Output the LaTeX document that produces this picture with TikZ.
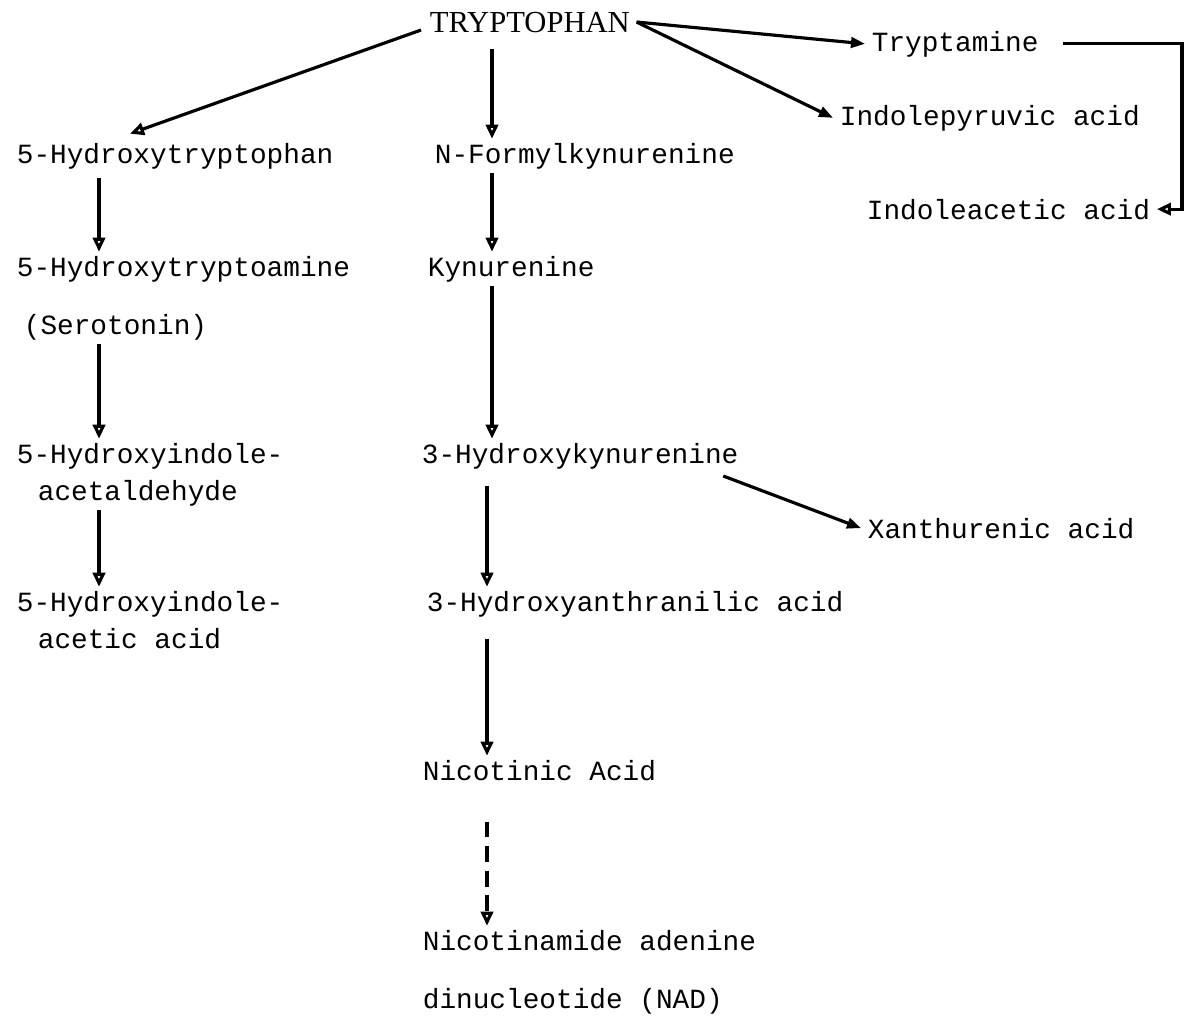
\documentclass[tikz,border=0pt]{standalone}
\usepackage{fontspec}
\setmainfont{Liberation Serif}
\setmonofont{Liberation Mono}
\usetikzlibrary{arrows.meta,calc}

\begin{document}
\begin{tikzpicture}[x=0.02cm, y=-0.02cm, line width=1.8pt,
  conv/.style={-{Triangle[open, length=8pt, width=7pt]}},
  convf/.style={-{Triangle[length=8pt, width=6pt]}},
  chem/.style={anchor=base west, inner xsep=3pt, inner ysep=1.5pt, align=left,
    font=\ttfamily\fontsize{15.8}{21}\selectfont}]
\path[use as bounding box, fill=white] (0,0) rectangle (1185,1015);
\node[anchor=base west, inner xsep=3pt, inner ysep=1.5pt, font=\fontsize{17.4}{21}\selectfont] (trp) at (423,32) {TRYPTOPHAN};
\node[chem] (tam) at (865,51) {Tryptamine};
\node[chem] (ipa) at (833,125) {Indolepyruvic acid};
\node[chem] (iaa) at (860,219) {Indoleacetic acid};
\node[chem] (htp) at (10,163) {5-Hydroxytryptophan};
\node[chem] (ht) at (10,276) {5-Hydroxytryptoamine};
\node[chem] (sero) at (17,334) {(Serotonin)};
\node[chem] (hial) at (10,500) {5-Hydroxyindole-\\\hspace*{0.42cm}acetaldehyde};
\node[chem] (hiaa) at (10,648) {5-Hydroxyindole-\\\hspace*{0.42cm}acetic acid};
\node[chem] (nfk) at (428,163) {N-Formylkynurenine};
\node[chem] (kyn) at (421,276) {Kynurenine};
\node[chem] (hk) at (415,463) {3-Hydroxykynurenine};
\node[chem] (xa) at (861,538) {Xanthurenic acid};
\node[chem] (haa) at (420,611) {3-Hydroxyanthranilic acid};
\node[chem] (nic) at (416,780) {Nicotinic Acid};
\node[chem] (nad) at (416,1008) {Nicotinamide adenine\\[12pt]dinucleotide (NAD)};
\coordinate (colA) at (99,0);
\coordinate (colB) at (492,0);
\coordinate (colC) at (487,0);
\coordinate (rail) at (1182,0);
% side branches
\draw[conv] ($(trp.west)+(-2,8)$) -- ($(htp.north west)+(120,-5)$);
\draw[convf] (trp.east) -- (tam.west);
\draw[convf] (trp.east) -- (ipa.west);
\draw[conv, shorten <=0.35cm] (tam.east) -- (tam.east -| rail) |- (iaa.east);
\draw[convf] ($(hk.south east)+(-22,3)$) -- (xa.west);
% serotonin route
\draw[conv, shorten <=0.1cm] (htp.south -| colA) -- (ht.north -| colA);
\draw[conv] (sero.south -| colA) -- (hial.north -| colA);
\draw[conv] (hial.south -| colA) -- (hiaa.north -| colA);
% kynurenine route
\draw[conv, shorten <=0.24cm] (trp.south -| colB) -- (nfk.north -| colB);
\draw[conv] (nfk.south -| colB) -- (kyn.north -| colB);
\draw[conv] (kyn.south -| colB) -- (hk.north -| colB);
\draw[conv, shorten <=0.26cm] (hk.south -| colC) -- (haa.north -| colC);
\draw[conv, shorten <=0.36cm] (haa.south -| colC) -- (nic.north -| colC);
\draw[conv, dash pattern=on 9pt off 5pt, shorten <=0.74cm] (nic.south -| colC) -- (nad.north -| colC);
\end{tikzpicture}
\end{document}
